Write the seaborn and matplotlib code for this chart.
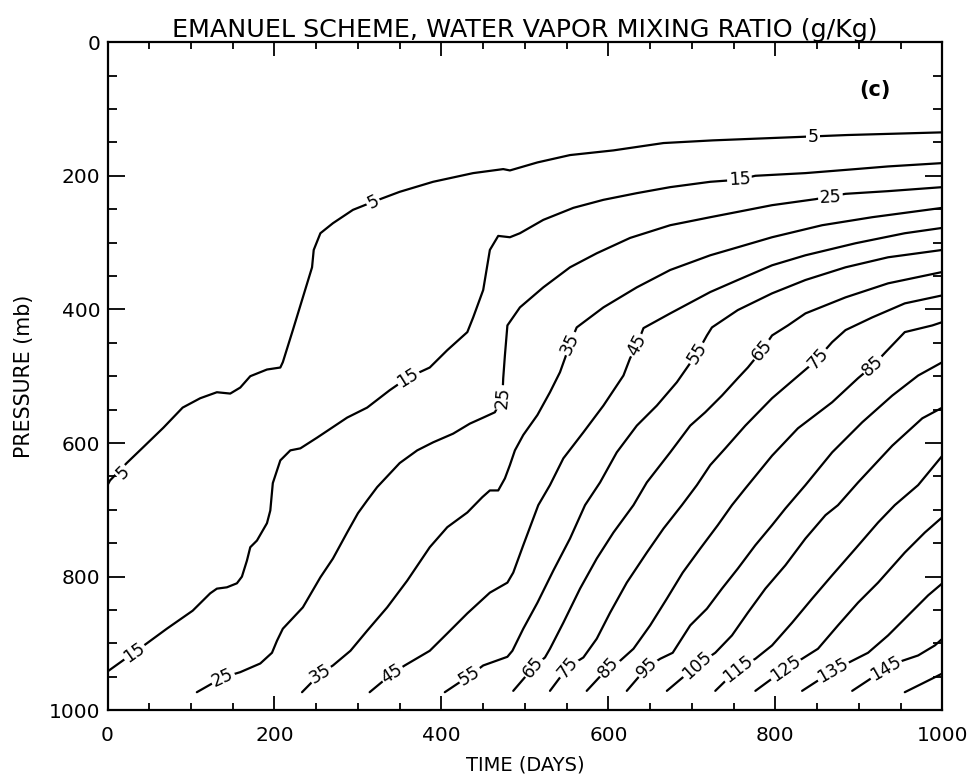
import matplotlib
matplotlib.use("Agg")
import matplotlib.pyplot as plt
from matplotlib.ticker import MultipleLocator
import pandas as pd
import seaborn as sns

# ---- contour lines: (time in days, pressure in mb) ----
c5_day = [0, 3, 23, 43, 67, 90, 111, 131, 147, 159, 171, 191, 207, 210, 222, 234, 245, 247, 255, 270,
          294, 318, 350, 390, 438, 474, 482, 515, 554, 606, 666, 725, 826, 886, 1000]
c5_mb = [663, 656, 630, 606, 577, 547, 533, 524, 526, 517, 500, 490, 487, 479, 431, 382, 337, 311, 286, 271,
         251, 239, 224, 209, 196, 190, 192, 180, 169, 162, 151, 147, 142, 139, 135]

c15_day = [0, 47, 71, 102, 123, 131, 143, 155, 161, 167, 171, 179, 191, 195, 198, 207, 219, 231, 251, 287,
           311, 338, 360, 386, 407, 431, 438, 450, 458, 468, 482, 494, 522, 558, 594, 634, 674, 722, 755, 776,
           836, 896, 935, 1000]
c15_mb = [942, 900, 878, 851, 825, 818, 816, 810, 800, 776, 756, 746, 720, 701, 660, 626, 611, 608, 592, 562,
          547, 521, 502, 487, 461, 434, 412, 371, 311, 290, 292, 286, 266, 248, 236, 226, 217, 209, 206, 200,
          196, 190, 186, 181]

c25_day = [107, 138, 159, 183, 197, 203, 210, 219, 234, 255, 270, 287, 300, 311, 323, 350, 371, 390, 414, 434,
           450, 464, 473, 474, 476, 479, 494, 522, 554, 586, 626, 674, 722, 755, 796, 848, 884, 935, 1000]
c25_mb = [973, 951, 943, 930, 914, 896, 878, 866, 846, 801, 773, 734, 705, 686, 666, 630, 611, 599, 586, 571,
          562, 554, 532, 503, 469, 424, 397, 367, 337, 316, 293, 274, 262, 254, 244, 235, 227, 223, 217]

c35_day = [233, 255, 270, 291, 311, 335, 359, 386, 407, 431, 449, 458, 468, 476, 482, 488, 498, 515, 530, 542,
           548, 554, 562, 594, 634, 674, 722, 755, 796, 856, 916, 1000]
c35_mb = [973, 945, 933, 911, 881, 846, 806, 756, 726, 704, 681, 671, 671, 653, 633, 611, 588, 558, 524, 494,
          473, 451, 427, 397, 367, 341, 319, 307, 292, 274, 262, 248]

c45_day = [314, 341, 356, 386, 407, 431, 458, 479, 486, 498, 510, 516, 530, 546, 570, 594, 618, 626, 634, 642,
           674, 722, 755, 796, 836, 896, 955, 1000]
c45_mb = [973, 945, 933, 911, 885, 855, 824, 809, 794, 753, 713, 693, 663, 623, 584, 544, 499, 473, 454, 428,
          406, 374, 356, 334, 319, 301, 286, 278]

c55_day = [404, 434, 450, 479, 485, 498, 515, 534, 554, 572, 590, 610, 634, 658, 682, 706, 718, 724, 755, 796,
           836, 884, 935, 1000]
c55_mb = [973, 948, 933, 920, 911, 878, 839, 791, 743, 693, 659, 614, 574, 544, 509, 466, 439, 427, 401, 376,
          356, 337, 322, 311]

c65_day = [486, 510, 524, 530, 546, 566, 586, 606, 630, 646, 674, 698, 716, 736, 755, 767, 784, 796, 815, 836,
           884, 935, 1000]
c65_mb = [971, 936, 921, 908, 869, 818, 773, 734, 693, 659, 614, 574, 554, 529, 503, 487, 461, 439, 424, 406,
          382, 361, 344]

c75_day = [530, 551, 570, 586, 602, 622, 646, 666, 688, 706, 722, 740, 764, 796, 824, 839, 851, 868, 884, 916,
           955, 1000]
c75_mb = [971, 936, 921, 893, 854, 809, 764, 728, 693, 663, 633, 608, 574, 533, 503, 487, 473, 449, 431, 412,
          391, 379]

c85_day = [574, 600, 614, 630, 650, 670, 689, 710, 731, 748, 764, 796, 827, 868, 899, 917, 932, 955, 988, 1000]
c85_mb = [971, 936, 926, 908, 873, 833, 794, 758, 723, 693, 668, 619, 578, 539, 503, 484, 464, 434, 424, 419]

c95_day = [622, 646, 662, 677, 698, 718, 736, 755, 776, 796, 812, 836, 868, 904, 940, 971, 1000]
c95_mb = [971, 936, 923, 914, 873, 848, 818, 788, 753, 723, 698, 663, 614, 569, 529, 499, 479]

c105_day = [670, 706, 728, 748, 767, 788, 812, 836, 860, 875, 899, 940, 976, 1000]
c105_mb = [971, 933, 914, 888, 854, 818, 783, 743, 708, 693, 659, 604, 563, 547]

c115_day = [728, 755, 776, 796, 820, 844, 868, 896, 923, 943, 971, 1000]
c115_mb = [971, 938, 923, 903, 869, 833, 798, 758, 719, 693, 663, 619]

c125_day = [776, 812, 832, 851, 875, 899, 923, 955, 979, 1000]
c125_mb = [971, 938, 923, 908, 873, 839, 809, 764, 734, 711]

c135_day = [832, 869, 892, 911, 935, 959, 983, 1000]
c135_mb = [971, 941, 926, 914, 888, 858, 828, 810]

c145_day = [892, 932, 952, 971, 991, 1000]
c145_mb = [971, 938, 926, 918, 903, 893]

c155_day = [955, 976, 1000]
c155_mb = [973, 960, 945]

# contour labels: text, time, pressure
label_text = ["5", "15", "25", "35", "45", "55", "65", "75", "85", "95", "105", "115", "125", "135", "145",
              "5", "15", "25", "35", "45", "55", "65", "75", "85",
              "5", "15", "25"]
label_day = [18, 32, 138, 255, 341, 434, 510, 551, 600, 646, 706, 755, 812, 869, 932,
             318, 360, 473, 554, 634, 706, 784, 851, 917,
             845, 757, 866]
label_mb = [644, 913, 951, 945, 945, 948, 936, 936, 936, 936, 933, 938, 938, 941, 938,
            239, 502, 532, 451, 454, 466, 461, 473, 484,
            142, 206, 233]
# label rotation on screen (degrees)
label_angle = [45, 35, 25, 32, 32, 32, 50, 50, 48, 45, 42, 38, 35, 30, 30,
               26, 32, 85, 65, 62, 58, 50, 48, 42,
               0, 3, 3]

x_ticks = [0, 200, 400, 600, 800, 1000]
y_ticks = [0, 200, 400, 600, 800, 1000]

# ---- build long table ----
curves = [
    (5, c5_day, c5_mb), (15, c15_day, c15_mb), (25, c25_day, c25_mb), (35, c35_day, c35_mb),
    (45, c45_day, c45_mb), (55, c55_day, c55_mb), (65, c65_day, c65_mb), (75, c75_day, c75_mb),
    (85, c85_day, c85_mb), (95, c95_day, c95_mb), (105, c105_day, c105_mb), (115, c115_day, c115_mb),
    (125, c125_day, c125_mb), (135, c135_day, c135_mb), (145, c145_day, c145_mb), (155, c155_day, c155_mb),
]
rows = []
for lev, days, mbs in curves:
    for i, (d, p) in enumerate(zip(days, mbs)):
        rows.append({"level": lev, "order": i, "day": d, "mb": p})
df = pd.DataFrame(rows)

sns.set_theme(style="ticks")
plt.rcParams["font.family"] = ["DejaVu Sans"]

fig = plt.figure(figsize=(9.73, 7.78), dpi=100)
ax = fig.add_axes([0.1105, 0.0871, 0.8580, 0.8587])

sns.lineplot(data=df, x="day", y="mb", units="level", estimator=None, sort=False,
             color="black", linewidth=1.6, legend=False, ax=ax)

for t, d, p, a in zip(label_text, label_day, label_mb, label_angle):
    ax.text(d, p, t, rotation=a, rotation_mode="anchor", ha="center", va="center",
            fontsize=12.5, color="black", zorder=5,
            bbox=dict(facecolor="white", edgecolor="none", pad=1.0))

ax.set_xlim(0, 1000)
ax.set_ylim(1000, 0)
ax.set_xticks(x_ticks)
ax.set_yticks(y_ticks)
ax.xaxis.set_minor_locator(MultipleLocator(50))
ax.yaxis.set_minor_locator(MultipleLocator(50))
ax.tick_params(axis="both", which="both", direction="in", top=True, right=True,
               color="black", width=1.3, labelsize=14.5, labelcolor="black")
ax.tick_params(axis="x", which="major", length=10, pad=11)
ax.tick_params(axis="x", which="minor", length=5)
ax.tick_params(axis="y", which="major", length=12, pad=5)
ax.tick_params(axis="y", which="minor", length=6.5)
for s in ax.spines.values():
    s.set_linewidth(1.6)
    s.set_color("black")
    s.set_visible(True)

ax.set_xlabel("TIME (DAYS)", fontsize=14, labelpad=8, color="black")
ax.set_ylabel("PRESSURE (mb)", fontsize=14.8, labelpad=11, color="black")
ax.set_title("EMANUEL SCHEME, WATER VAPOR MIXING RATIO (g/Kg)", fontsize=18.3, pad=2, color="black")
ax.text(0.919, 0.928, "(c)", transform=ax.transAxes, fontsize=15, fontweight="bold",
        ha="center", va="center", color="black")
ax.grid(False)
ax.set_facecolor("white")

fig.savefig("out.png", dpi=100, facecolor="white")
